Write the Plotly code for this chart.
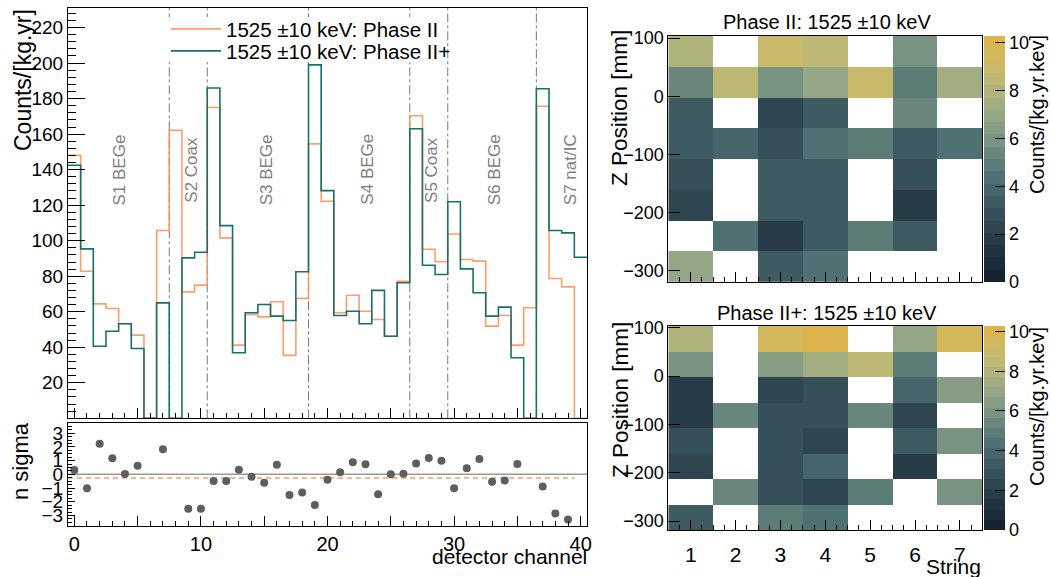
import plotly.graph_objects as go

# ---------------- data ----------------
channels = list(range(41))
phase2 = [148, 82.8, 64.4, 61.8, 53.2, 46.8, 0, 105.7, 162.2, 71.2, 75, 175, 101.6, 41.2,
          58.4, 57.1, 65.6, 35.4, 67.5, 154.5, 122.2, 59.4, 69.3, 60.3, 55.6, 46.2, 77.2,
          170.3, 95.2, 88.1, 103.8, 89.4, 88.5, 51.9, 57.9, 41.2, 62.2, 175.7, 78.7, 74, 0]
phase2plus = [142.5, 95.4, 40.6, 49, 53.2, 39.3, 0, 65, 0, 90.3, 93.5, 186, 108.5, 36.9,
              59.4, 64.1, 57.5, 55.1, 82.5, 199, 128.2, 57.9, 60.3, 53.2, 72, 46.2, 76.3,
              163, 86.2, 81, 121.9, 84.1, 70.7, 57.5, 62.6, 34.1, 0, 185.5, 105.7, 104.4, 90.7]

res_channels = [0, 1, 2, 3, 4, 5, 7, 9, 10, 11, 12, 13, 14, 15, 16, 17, 18, 19, 20, 21, 22,
                23, 24, 25, 26, 27, 28, 29, 30, 31, 32, 33, 34, 35, 37, 38, 39]
res_nsigma = [0.32, -1.02, 2.24, 1.17, 0.02, 0.63, 1.83, -2.51, -2.51, -0.49, -0.49, 0.34,
              -0.17, -0.61, 0.71, -1.51, -1.32, -2.24, -0.39, 0.15, 0.88, 0.73, -1.46, 0.0,
              0.05, 0.80, 1.2, 1.0, -1.02, 0.44, 1.12, -0.54, -0.44, 0.76, -0.88, -2.85, -3.29]
mean_nsigma = -0.27
mean_range = [-0.5, 39.5]

string_boundaries = [7.5, 10.5, 18.5, 26.5, 29.5, 36.5]
string_labels = ["S1 BEGe", "S2 Coax", "S3 BEGe", "S4 BEGe", "S5 Coax", "S6 BEGe", "S7 nat/IC"]
string_label_x = [3.6, 9.3, 15.2, 23.2, 28.2, 33.2, 39.2]
string_label_y = 140

strings = [1, 2, 3, 4, 5, 6, 7]
z_rows = [77.1, 24.4, -28.4, -81.1, -133.9, -186.6, -239.4, -292.2]
N = None
heat_p2 = [
    [7.8, N, 9.0, 8.6, N, 6.0, N],
    [5.2, 8.6, 5.7, 7.1, 9.2, 5.1, 7.2],
    [3.4, N, 2.3, 3.5, N, 5.3, N],
    [3.4, 4.0, 2.6, 4.2, 5.0, 3.1, 4.5],
    [2.8, N, 3.5, 3.5, N, 2.6, N],
    [2.1, N, 3.5, 3.5, N, 2.0, N],
    [N, 4.5, 1.6, 3.5, 5.0, 3.4, N],
    [6.7, N, 3.4, 4.3, N, N, N],
]
heat_p2plus = [
    [7.9, N, 9.6, 10.0, N, 7.0, 9.7],
    [5.8, N, 6.3, 7.5, 8.6, 5.0, N],
    [2.0, N, 2.1, 2.6, N, 4.0, 6.4],
    [2.0, 5.4, 3.0, 3.0, 5.3, 2.5, N],
    [2.6, N, 3.0, 2.5, N, 3.2, 5.8],
    [2.2, N, 3.0, 4.0, N, 1.6, N],
    [N, 5.4, 2.6, 2.2, 4.7, N, 6.0],
    [3.4, N, 4.7, 4.2, N, N, N],
]
zmax = 10.28

palette = ["#172430", "#1c2b38", "#22333f", "#283c48", "#2e4650", "#355058", "#3e5b62",
           "#46666b", "#507173", "#5c7c78", "#6a877d", "#789382", "#869d84", "#94a685",
           "#a2ae82", "#b0b47c", "#bdb874", "#c9b96a", "#d4b85c", "#ddb44b"]
colorscale = []
for i, c in enumerate(palette):
    colorscale.append([i / len(palette), c])
    colorscale.append([(i + 1) / len(palette), c])

# ---------------- figure ----------------
W, H = 1051, 577
FONT = "Liberation Sans, Arial, sans-serif"
ORANGE = "rgba(255,140,80,0.85)"
TEAL = "#17706f"

# main-panel geometry (pixels)
MX0, MX1, MY0, MY1 = 68, 587, 8, 418.3
XR = [-0.5, 40.5]
YR = [0, 231]


def px_x(p):
    return p / W


def px_y(p):
    return 1 - p / H


def main_x(p):  # pixel -> channel coordinate on main panel
    return XR[0] + (p - MX0) / (MX1 - MX0) * (XR[1] - XR[0])


def main_y(p):  # pixel -> counts coordinate on main panel
    return YR[0] + (MY1 - p) / (MY1 - MY0) * (YR[1] - YR[0])


fig = go.Figure()

edges = [c - 0.5 for c in channels] + [channels[-1] + 0.5]
fig.add_trace(go.Scatter(x=edges, y=phase2 + [phase2[-1]], mode="lines", line_shape="hv",
                         line=dict(color=ORANGE, width=1.6),
                         name="1525 \u00b110 keV: Phase II", xaxis="x", yaxis="y",
                         legend="legend"))
fig.add_trace(go.Scatter(x=edges, y=phase2plus + [phase2plus[-1]], mode="lines", line_shape="hv",
                         line=dict(color=TEAL, width=1.6),
                         name="1525 \u00b110 keV: Phase II+", xaxis="x", yaxis="y",
                         legend="legend2"))

# residuals
fig.add_trace(go.Scatter(x=XR, y=[0, 0], mode="lines",
                         line=dict(color="#9a9a9a", width=1.5), showlegend=False,
                         xaxis="x2", yaxis="y2"))
fig.add_trace(go.Scatter(x=mean_range, y=[mean_nsigma, mean_nsigma], mode="lines",
                         line=dict(color="rgba(255,170,130,0.9)", width=2, dash="5px,4px"),
                         showlegend=False, xaxis="x2", yaxis="y2"))
fig.add_trace(go.Scatter(x=res_channels, y=res_nsigma, mode="markers",
                         marker=dict(color="#5e5e5e", size=8), showlegend=False,
                         xaxis="x2", yaxis="y2"))

# heatmaps
cb_common = dict(x=px_x(983.5), xanchor="left", xpad=0, ypad=0, yanchor="top",
                 lenmode="pixels", thickness=21, outlinewidth=0,
                 tickvals=[0, 2, 4, 6, 8, 10], ticks="inside", ticklen=10, tickcolor="#111",
                 tickfont=dict(family=FONT, size=18, color="black"))
fig.add_trace(go.Heatmap(x=strings, y=z_rows, z=heat_p2, zmin=0, zmax=zmax,
                         colorscale=colorscale, xaxis="x3", yaxis="y3", hoverongaps=False,
                         colorbar=dict(y=px_y(36), len=246, **cb_common)))
fig.add_trace(go.Heatmap(x=strings, y=z_rows, z=heat_p2plus, zmin=0, zmax=zmax,
                         colorscale=colorscale, xaxis="x4", yaxis="y4", hoverongaps=False,
                         colorbar=dict(y=px_y(326), len=204, **cb_common)))

ax_common = dict(showline=True, linecolor="black", linewidth=1, mirror=True,
                 showgrid=False, zeroline=False, ticks="inside", tickcolor="black",
                 tickfont=dict(family=FONT, size=19, color="black"))

main_dom_x = [px_x(MX0), px_x(MX1)]
main_dom_y = [px_y(MY1), px_y(MY0)]
legend_common = dict(x=px_x(166), xanchor="left", yanchor="middle", bgcolor="rgba(0,0,0,0)",
                     borderwidth=0, itemwidth=50,
                     font=dict(family=FONT, size=20.5, color="black"))
fig.update_layout(
    width=W, height=H, margin=dict(l=0, r=0, t=0, b=0, autoexpand=False),
    paper_bgcolor="white", plot_bgcolor="white",
    font=dict(family=FONT, color="black"),
    xaxis=dict(domain=main_dom_x, anchor="y", range=XR,
               tickvals=[0, 5, 10, 15, 20, 25, 30, 35, 40], showticklabels=False, ticklen=10,
               minor=dict(tickmode="linear", tick0=0, dtick=1, ticks="inside", ticklen=5,
                          tickcolor="black"),
               **ax_common),
    yaxis=dict(domain=main_dom_y, anchor="x", range=YR,
               tickvals=list(range(20, 221, 20)), ticklen=17,
               minor=dict(tickmode="linear", tick0=0, dtick=4, ticks="inside", ticklen=8,
                          tickcolor="black"),
               **ax_common),
    xaxis2=dict(domain=main_dom_x, anchor="y2", range=XR,
                tickvals=[0, 5, 10, 15, 20, 25, 30, 35, 40],
                ticktext=["0", "", "10", "", "20", "", "30", "", "40"], ticklen=10,
                minor=dict(tickmode="linear", tick0=0, dtick=1, ticks="inside", ticklen=5,
                           tickcolor="black"),
                **{**ax_common, "tickfont": dict(family=FONT, size=20, color="black")}),
    yaxis2=dict(domain=[px_y(526), px_y(423)], anchor="x2", range=[-3.77, 3.75],
                tickvals=[-3, -2, -1, 0, 1, 2, 3], ticklen=7,
                minor=dict(tickmode="linear", tick0=0, dtick=0.25, ticks="inside", ticklen=4,
                           tickcolor="black"),
                **ax_common),
    xaxis3=dict(domain=[px_x(668.3), px_x(982.3)], anchor="y3", range=[0.5, 7.5],
                tickvals=strings, showticklabels=False, ticklen=10,
                minor=dict(tickmode="linear", tick0=0.5, dtick=0.25, ticks="inside", ticklen=5,
                           tickcolor="black"),
                **ax_common),
    yaxis3=dict(domain=[px_y(281.7), px_y(36)], anchor="x3", range=[-318.6, 103.5],
                tickvals=[-300, -200, -100, 0, 100], ticklen=12,
                **{**ax_common, "tickfont": dict(family=FONT, size=18, color="black")}),
    xaxis4=dict(domain=[px_x(668.3), px_x(982.3)], anchor="y4", range=[0.5, 7.5],
                tickvals=strings, ticklen=10, ticklabelstandoff=6,
                minor=dict(tickmode="linear", tick0=0.5, dtick=0.25, ticks="inside", ticklen=5,
                           tickcolor="black"),
                **{**ax_common, "tickfont": dict(family=FONT, size=21, color="black")}),
    yaxis4=dict(domain=[px_y(530), px_y(326)], anchor="x4", range=[-318.6, 103.5],
                tickvals=[-300, -200, -100, 0, 100], ticklen=12,
                **{**ax_common, "tickfont": dict(family=FONT, size=18, color="black")}),
    legend=dict(y=px_y(29), **legend_common),
    legend2=dict(y=px_y(51), **legend_common),
)

# string boundaries
for b in string_boundaries:
    fig.add_shape(type="line", x0=b, x1=b, y0=0, y1=1, xref="x", yref="y domain",
                  line=dict(color="#777777", width=1, dash="dashdot"), layer="below")

# legend backdrop (white box hiding the separators, as in the original)
fig.add_shape(type="rect", xref="x", yref="y",
              x0=main_x(163), x1=main_x(442), y0=main_y(62), y1=main_y(17),
              fillcolor="white", line=dict(width=0), layer="above")

# string labels
for lab, lx in zip(string_labels, string_label_x):
    fig.add_annotation(x=lx, y=string_label_y, xref="x", yref="y", text=lab, textangle=-90,
                       xanchor="center", yanchor="middle",
                       showarrow=False, font=dict(family=FONT, size=17, color="#808080"))

ann = [
    dict(x=px_x(23), y=px_y(80), text="Counts/[kg.yr]", textangle=-90, size=23),
    dict(x=px_x(20), y=px_y(461), text="n sigma", textangle=-90, size=22),
    dict(x=px_x(620), y=px_y(108), text="Z Position [mm]", textangle=-90, size=22.5),
    dict(x=px_x(620), y=px_y(400), text="Z Position [mm]", textangle=-90, size=22.5),
    dict(x=px_x(1037), y=px_y(115), text="Counts/[kg.yr.kev]", textangle=-90, size=20),
    dict(x=px_x(1037), y=px_y(407), text="Counts/[kg.yr.kev]", textangle=-90, size=20),
    dict(x=px_x(827), y=px_y(22), text="Phase II: 1525 \u00b110 keV", textangle=0, size=20),
    dict(x=px_x(827), y=px_y(313), text="Phase II+: 1525 \u00b110 keV", textangle=0, size=20),
]
for a in ann:
    fig.add_annotation(x=a["x"], y=a["y"], xref="paper", yref="paper", text=a["text"],
                       textangle=a["textangle"], showarrow=False,
                       xanchor="center", yanchor="middle",
                       font=dict(family=FONT, size=a["size"], color="black"))

fig.add_annotation(x=px_x(589), y=px_y(556), xref="paper", yref="paper", xanchor="right",
                   yanchor="middle", text="detector channel", showarrow=False,
                   font=dict(family=FONT, size=21, color="black"))
fig.add_annotation(x=px_x(983), y=px_y(566), xref="paper", yref="paper", xanchor="right",
                   yanchor="middle", text="String", showarrow=False,
                   font=dict(family=FONT, size=21, color="black"))

fig.write_html("out.html")
